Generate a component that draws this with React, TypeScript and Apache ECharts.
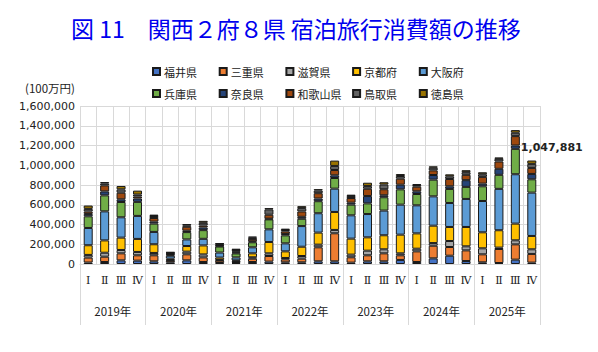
import React, { useEffect, useRef } from "react";
import * as echarts from "echarts";

const quarters = [
  "Ⅰ", "Ⅱ", "Ⅲ", "Ⅳ", "Ⅰ", "Ⅱ", "Ⅲ", "Ⅳ", "Ⅰ", "Ⅱ", "Ⅲ", "Ⅳ", "Ⅰ", "Ⅱ",
  "Ⅲ", "Ⅳ", "Ⅰ", "Ⅱ", "Ⅲ", "Ⅳ", "Ⅰ", "Ⅱ", "Ⅲ", "Ⅳ", "Ⅰ", "Ⅱ", "Ⅲ", "Ⅳ",
];
const years = ["2019年", "2020年", "2021年", "2022年", "2023年", "2024年", "2025年"];

const prefectures = ["福井県", "三重県", "滋賀県", "京都府", "大阪府", "兵庫県", "奈良県", "和歌山県", "鳥取県", "徳島県"];
const colors = ["#4472C4", "#ED7D31", "#A5A5A5", "#FFC000", "#5B9BD5", "#70AD47", "#264478", "#9E480E", "#636363", "#997300"];

const fukui = [15000, 20000, 37000, 34000, 27000, 17000, 37000, 20000, 10000, 10000, 20000, 24000, 17000, 17000, 27000, 27000, 14000, 27000, 27000, 41000, 20000, 57000, 84000, 30000, 17000, 10000, 44000, 14000];
const mie = [50000, 54000, 71000, 54000, 61000, 17000, 61000, 47000, 24000, 10000, 34000, 57000, 30000, 37000, 142000, 284000, 54000, 61000, 81000, 47000, 108000, 128000, 88000, 108000, 81000, 142000, 155000, 88000];
const shiga = [27000, 40000, 34000, 34000, 24000, 7000, 27000, 30000, 7000, 7000, 14000, 27000, 14000, 27000, 27000, 34000, 27000, 47000, 41000, 20000, 27000, 27000, 61000, 41000, 61000, 14000, 41000, 47000];
const kyoto = [98000, 125000, 125000, 132000, 88000, 13000, 57000, 91000, 24000, 10000, 40000, 115000, 67000, 94000, 122000, 182000, 162000, 135000, 142000, 189000, 155000, 176000, 142000, 196000, 162000, 176000, 169000, 135000];
const osaka = [175000, 294000, 206000, 233000, 125000, 30000, 67000, 67000, 51000, 30000, 61000, 128000, 81000, 209000, 196000, 236000, 236000, 236000, 250000, 304000, 284000, 297000, 243000, 284000, 317000, 419000, 500000, 438881];
const hyogo = [118000, 162000, 155000, 142000, 84000, 10000, 74000, 88000, 61000, 40000, 51000, 101000, 81000, 74000, 122000, 108000, 108000, 108000, 135000, 155000, 115000, 169000, 142000, 122000, 149000, 142000, 257000, 135000];
const nara = [24000, 40000, 27000, 34000, 20000, 7000, 14000, 27000, 7000, 10000, 10000, 7000, 13000, 20000, 27000, 27000, 20000, 74000, 20000, 47000, 27000, 47000, 27000, 68000, 27000, 61000, 34000, 54000];
const wakayama = [24000, 61000, 67000, 20000, 37000, 7000, 40000, 20000, 7000, 10000, 24000, 40000, 27000, 54000, 54000, 54000, 47000, 74000, 61000, 61000, 47000, 47000, 74000, 54000, 68000, 74000, 95000, 61000];
const tottori = [27000, 20000, 34000, 20000, 20000, 7000, 14000, 27000, 13000, 14000, 13000, 54000, 14000, 34000, 27000, 41000, 20000, 27000, 47000, 27000, 17000, 27000, 27000, 27000, 27000, 27000, 34000, 41000];
const tokushima = [34000, 14000, 34000, 40000, 14000, 6000, 14000, 20000, 6000, 14000, 10000, 13000, 14000, 20000, 14000, 54000, 14000, 34000, 24000, 20000, 10000, 14000, 20000, 20000, 20000, 14000, 27000, 34000];

const seriesValues = [fukui, mie, shiga, kyoto, osaka, hyogo, nara, wakayama, tottori, tokushima];

const yTicks = { min: 0, max: 1600000, interval: 200000 };

const JP = "'Noto Sans CJK JP', sans-serif";
const NUM = "'DejaVu Sans', sans-serif";

export default function App() {
  const ref = useRef<HTMLDivElement>(null);
  useEffect(() => {
    if (!ref.current) return;
    const chart = echarts.init(ref.current, null, { renderer: "svg" });
    const last = quarters.length - 1;
    const lastTotal = seriesValues.reduce((s, arr) => s + arr[last], 0);

    const series = prefectures.map((name, i) => ({
      name,
      type: "bar",
      stack: "total",
      xAxisIndex: 0,
      barWidth: 9,
      itemStyle: { color: colors[i], borderColor: "#1a1a1a", borderWidth: 1 },
      emphasis: { disabled: true },
      data: seriesValues[i].map((v, j) =>
        i === prefectures.length - 1 && j === last
          ? {
              value: v,
              label: {
                show: true,
                position: "top",
                offset: [20, -3],
                formatter: () => lastTotal.toLocaleString("en-US"),
                fontFamily: NUM,
                fontWeight: "bold",
                fontSize: 11,
                color: "#222",
              },
            }
          : v
      ),
    }));

    const legends = prefectures.map((name, i) => ({
      left: 152 + (i % 5) * 66.7,
      top: i < 5 ? 66 : 88,
      padding: 0,
      itemWidth: 7,
      itemHeight: 7,
      itemGap: 0,
      icon: "rect",
      textStyle: { fontFamily: JP, fontSize: 11, color: "#222", padding: [0, 0, 0, -1] },
      data: [name],
    }));

    chart.setOption({
      animation: false,
      title: {
        text: "図 11　関西２府８県 宿泊旅行消費額の推移",
        left: 66,
        top: 11,
        textStyle: { color: "#0000ee", fontSize: 23, fontWeight: "normal", fontFamily: JP },
      },
      legend: legends,
      grid: { left: 80, right: 58, top: 106, bottom: 88, containLabel: false },
      xAxis: [
        {
          type: "category",
          data: quarters,
          axisLine: { show: true, lineStyle: { color: "#d9d9d9" } },
          axisTick: { show: false },
          splitLine: { show: true, interval: 0, lineStyle: { color: "#d9d9d9" } },
          axisLabel: { interval: 0, margin: 11, fontSize: 11, color: "#222", fontFamily: "'DejaVu Serif', " + JP },
        },
        {
          type: "category",
          data: years,
          position: "bottom",
          axisLine: { show: false },
          axisTick: { show: true, length: 61, interval: 0, lineStyle: { color: "#d9d9d9" } },
          axisLabel: { interval: 0, margin: 41, fontSize: 11.5, color: "#222", fontFamily: JP },
          splitLine: { show: false },
        },
      ],
      yAxis: {
        type: "value",
        ...yTicks,
        name: "(100万円)",
        nameGap: 12,
        nameTextStyle: { align: "right", fontSize: 11.5, color: "#222", fontFamily: JP, padding: [0, 5, 0, 0] },
        axisLine: { show: false },
        axisTick: { show: false },
        splitLine: { lineStyle: { color: "#d9d9d9" } },
        axisLabel: {
          margin: 5,
          fontSize: 11,
          color: "#222",
          fontFamily: NUM,
          formatter: (v: number) => v.toLocaleString("en-US"),
        },
      },
      series,
    });
    return () => chart.dispose();
  }, []);
  return <div ref={ref} style={{ position: "absolute", left: 0, top: 0, width: 598, height: 352 }} />;
}
